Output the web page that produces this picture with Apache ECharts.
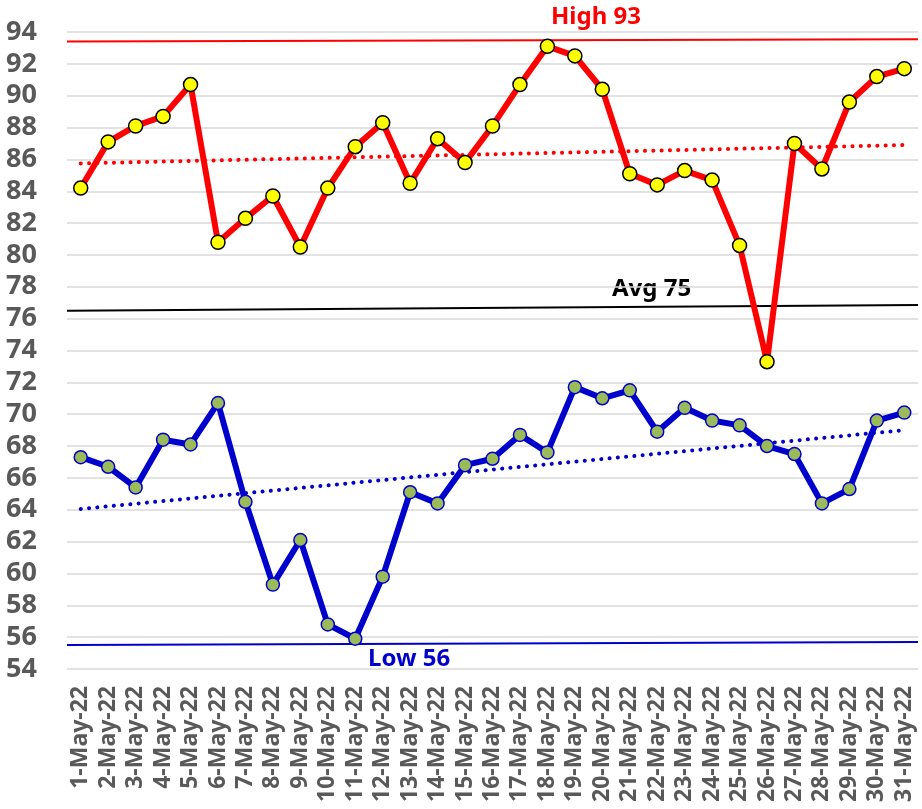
<!DOCTYPE html>
<html>
<head>
<meta charset="utf-8">
<script src="https://cdn.jsdelivr.net/npm/echarts@6/dist/echarts.min.js"></script>
<style>
  html, body { margin: 0; padding: 0; background: #fff; }
  #chart { width: 922px; height: 809px; }
</style>
</head>
<body>
<div id="chart"></div>
<script>
var days = [];
for (var d = 1; d <= 31; d++) days.push(d + '-May-22');

// daily highs (red) and lows (blue)
var highs = [84.2, 87.1, 88.1, 88.7, 90.7, 80.8, 82.3, 83.7, 80.5, 84.2,
  86.8, 88.3, 84.5, 87.3, 85.8, 88.1, 90.7, 93.1, 92.5, 90.4,
  85.1, 84.4, 85.3, 84.7, 80.6, 73.3, 87.0, 85.4, 89.6, 91.2, 91.7];
var lows = [67.3, 66.7, 65.4, 68.4, 68.1, 70.7, 64.5, 59.3, 62.1, 56.8,
  55.9, 59.8, 65.1, 64.4, 66.8, 67.2, 68.7, 67.6, 71.7, 71.0,
  71.5, 68.9, 70.4, 69.6, 69.3, 68.0, 67.5, 64.4, 65.3, 69.6, 70.1];

// trend endpoints (first day, last day)
var highTrend = [85.75, 86.9];
var lowTrend = [64.05, 69.0];

// reference lines (left edge, right edge)
var highRef = [93.4, 93.55];
var avgRef = [76.5, 76.85];
var lowRef = [55.5, 55.7];

var yTicks = { min: 54, max: 94, step: 2 };

var font = 'Noto Sans';

function endpoints(pair) {
  return days.map(function(x, i) {
    if (i === 0) return pair[0];
    if (i === days.length - 1) return pair[1];
    return null;
  });
}

function refLine(pair, color) {
  return {
    type: 'line',
    xAxisIndex: 1,
    data: [[0, pair[0]], [1, pair[1]]],
    symbol: 'none',
    silent: true,
    lineStyle: { color: color, width: 2 },
    z: 1
  };
}

var chart = echarts.init(document.getElementById('chart'));

chart.setOption({
  animation: false,
  backgroundColor: '#fff',
  grid: { left: 67, right: 4, top: 32, bottom: 140 },
  xAxis: [{
    type: 'category',
    data: days,
    boundaryGap: true,
    axisLine: { show: false },
    axisTick: { show: false },
    axisLabel: {
      interval: 0,
      rotate: 90,
      margin: 17,
      color: '#595959',
      fontFamily: font,
      fontWeight: 'bold',
      fontSize: 23
    }
  }, {
    type: 'value',
    min: 0,
    max: 1,
    show: false
  }],
  yAxis: {
    type: 'value',
    min: yTicks.min,
    max: yTicks.max,
    interval: yTicks.step,
    axisLine: { show: false },
    axisTick: { show: false },
    splitLine: { lineStyle: { color: '#d9d9d9', width: 1.5 } },
    axisLabel: {
      margin: 30,
      color: '#595959',
      fontFamily: font,
      fontWeight: 'bold',
      fontSize: 27
    }
  },
  series: [
    refLine(highRef, '#ff0000'),
    refLine(avgRef, '#000000'),
    refLine(lowRef, '#0000cc'),
    {
      type: 'line',
      data: endpoints(highTrend),
      connectNulls: true,
      symbol: 'none',
      lineStyle: { color: '#ff0000', width: 4, type: [0.1, 8.2], cap: 'round' },
      z: 2
    },
    {
      type: 'line',
      data: endpoints(lowTrend),
      connectNulls: true,
      symbol: 'none',
      lineStyle: { color: '#0000cc', width: 4, type: [0.1, 8.2], cap: 'round' },
      z: 2
    },
    {
      type: 'line',
      data: lows,
      symbol: 'circle',
      symbolSize: 13,
      itemStyle: { color: '#9bbb59', borderColor: '#0000cc', borderWidth: 1.5 },
      lineStyle: { color: '#0000cc', width: 6 },
      z: 3
    },
    {
      type: 'line',
      data: highs,
      symbol: 'circle',
      symbolSize: 14,
      itemStyle: { color: '#ffff00', borderColor: '#000000', borderWidth: 1.5 },
      lineStyle: { color: '#ff0000', width: 6 },
      z: 4
    }
  ],
  graphic: [
    { type: 'text', left: 551, top: 5, style: { text: 'High 93', fill: '#ff0000', font: 'bold 24px "Noto Sans"' } },
    { type: 'text', left: 612, top: 277, style: { text: 'Avg 75', fill: '#000000', font: 'bold 24px "Noto Sans"' } },
    { type: 'text', left: 368, top: 647, style: { text: 'Low 56', fill: '#0000cc', font: 'bold 24px "Noto Sans"' } }
  ]
});
</script>
</body>
</html>
